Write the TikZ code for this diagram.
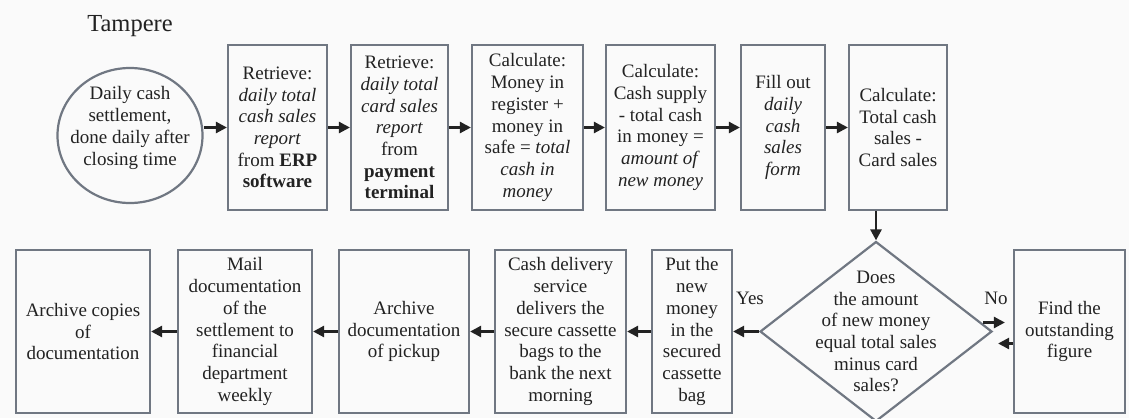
\documentclass[tikz,border=0pt]{standalone}
\usepackage{fontspec}
\setmainfont{Liberation Serif}
\usetikzlibrary{shapes.geometric, arrows.meta}
\definecolor{BoxGray}{RGB}{112,119,130}
\definecolor{InkGray}{RGB}{34,34,34}
\definecolor{PaperGray}{RGB}{250,250,250}
\tikzset{
  flowbox/.style={draw=BoxGray,line width=2.2pt,rectangle,inner sep=0pt,align=center,text=InkGray,font=\fontsize{19}{21.7}\selectfont},
  flowtext/.style={inner sep=0pt,align=center,text=InkGray,font=\fontsize{19}{21.7}\selectfont},
  arr/.style={draw=InkGray,line width=2.5pt,-{Triangle[length=11pt,width=11pt]}}
}

\begin{document}
\begin{tikzpicture}[x=1pt,y=-1pt]
          \fill[PaperGray] (0,0) rectangle (1129,418);
          \useasboundingbox (0,0) rectangle (1129,418);
          % top row
          \node[text=InkGray,font=\fontsize{24.5}{28}\selectfont,anchor=base] (title) at (130,31) {Tampere};
          \node[flowbox,ellipse,minimum width=145pt,minimum height=135pt] (start) at (130,135.5) {};
          \node[flowtext] (starttext) at (130,128) {Daily cash\\settlement,\\done daily after\\closing time};
          \node[flowbox,minimum width=99pt,minimum height=165pt] (ret1) at (277.5,127.5) {Retrieve:\\\textit{daily total}\\\textit{cash sales}\\\textit{report}\\from \textbf{ERP}\\\textbf{software}};
          \node[flowbox,minimum width=97pt,minimum height=165pt] (ret2) at (399.5,127.5) {Retrieve:\\\textit{daily total}\\\textit{card sales}\\\textit{report}\\from\\\textbf{payment}\\\textbf{terminal}};
          \node[flowbox,minimum width=111pt,minimum height=165pt] (calc1) at (527.5,127.5) {Calculate:\\Money in\\register +\\money in\\safe = \textit{total}\\\textit{cash in}\\\textit{money}};
          \node[flowbox,minimum width=109pt,minimum height=165pt] (calc2) at (660.5,127.5) {Calculate:\\Cash supply\\- total cash\\in money =\\\textit{amount of}\\\textit{new money}};
          \node[flowbox,minimum width=84pt,minimum height=165pt] (fill) at (783,127.5) {Fill out\\\textit{daily}\\\textit{cash}\\\textit{sales}\\\textit{form}};
          \node[flowbox,minimum width=98pt,minimum height=165pt] (calc3) at (898,127.5) {Calculate:\\Total cash\\sales -\\Card sales};
          \draw[arr] (start.east |- ret1.west) -- (ret1.west);
          \draw[arr] (ret1) -- (ret2);
          \draw[arr] (ret2) -- (calc1);
          \draw[arr] (calc1) -- (calc2);
          \draw[arr] (calc2) -- (fill);
          \draw[arr] (fill) -- (calc3);
          % decision
          \node[flowbox,diamond,minimum width=232pt,minimum height=180pt] (dec) at (876,331.5) {};
          \node[flowtext] (dectext) at (876,331.5) {Does\\the amount\\of new money\\equal total sales\\minus card\\sales?};
          \draw[arr] (calc3.south -| dec.north) -- (dec.north);
          \node[flowbox,minimum width=111pt,minimum height=163pt] (find) at (1069.5,331.5) {Find the\\outstanding\\figure};
          \node[flowtext] (yes) at (750,298) {Yes};
          \node[flowtext] (no) at (996,298) {No};
          \draw[arr,shorten >=8pt] ([xshift=-10pt,yshift=9pt]dec.east) -- ([yshift=9pt]find.west);
          \draw[arr,shorten >=5pt] ([yshift=-12pt]find.west) -- ([yshift=-12pt]dec.east);
          % bottom row
          \node[flowbox,minimum width=80pt,minimum height=163pt] (put) at (692,331.5) {Put the\\new\\money\\in the\\secured\\cassette\\bag};
          \node[flowbox,minimum width=131pt,minimum height=163pt] (deliv) at (560.5,331.5) {Cash delivery\\service\\delivers the\\secure cassette\\bags to the\\bank the next\\morning};
          \node[flowbox,minimum width=130pt,minimum height=163pt] (arch) at (404,331.5) {Archive\\documentation\\of pickup};
          \node[flowbox,minimum width=134pt,minimum height=163pt] (mail) at (245,331.5) {Mail\\documentation\\of the\\settlement to\\financial\\department\\weekly};
          \node[flowbox,minimum width=134pt,minimum height=163pt] (copies) at (83,331.5) {Archive copies\\of\\documentation};
          \draw[arr] (dec) -- (put);
          \draw[arr] (put) -- (deliv);
          \draw[arr] (deliv) -- (arch);
          \draw[arr] (arch) -- (mail);
          \draw[arr] (mail) -- (copies);
        \end{tikzpicture}
\end{document}
